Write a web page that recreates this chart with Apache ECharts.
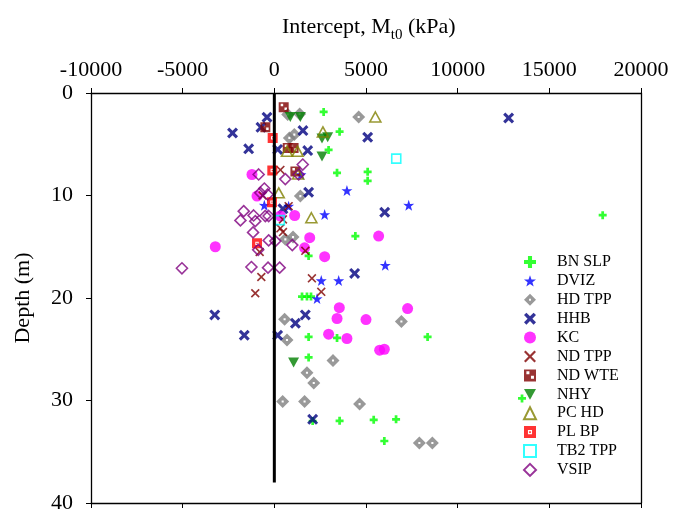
<!DOCTYPE html>
<html>
<head>
<meta charset="utf-8">
<script src="https://cdn.jsdelivr.net/npm/echarts@6/dist/echarts.min.js"></script>
<style>
html,body{margin:0;padding:0;background:#fff;}
#chart{width:687px;height:514px;}
</style>
</head>
<body>
<div id="chart"></div>
<script>
// ---- Data: [intercept Mt0 (kPa), depth (m)] ----
const bnSlp = [[2690,1.85],[3560,3.77],[2960,5.55],[3420,7.79],[5090,7.69],[5090,8.57],[17910,11.92],[4420,13.96],[1870,15.9],[1510,19.86],[1780,19.86],[2000,19.86],[1870,23.8],[3420,23.9],[8360,23.8],[1870,25.8],[13510,29.8],[2090,32.0],[3560,31.98],[5420,31.88],[6640,31.84],[6000,33.95]];
const dviz = [[3960,9.51],[7330,10.94],[2745,11.85],[-545,10.94],[780,11.04],[1450,7.95],[6050,16.8],[2560,18.3],[3510,18.3],[2330,20.06]];
const hdTpp = [[4600,2.34],[730,2.1],[1380,2.04],[820,4.38],[1090,4.06],[1420,10.06],[600,14.28],[1020,14.06],[560,22.07],[690,24.1],[6930,22.3],[3200,26.1],[1780,27.3],[2150,28.3],[455,30.1],[1650,30.1],[4650,30.35],[7910,34.15],[8620,34.15]];
const hhb = [[12780,2.44],[-400,2.37],[-730,3.35],[1560,3.67],[5090,4.32],[-2280,3.9],[-1400,5.45],[1820,5.62],[180,5.5],[1870,9.68],[6020,11.63],[470,11.3],[-3250,21.65],[-1640,23.63],[180,23.63],[1150,22.46],[1690,21.65],[4380,17.6],[2090,31.84]];
const kc = [[-1220,7.95],[-945,10.06],[1110,11.95],[330,12.0],[1930,14.12],[1650,15.1],[2745,15.97],[-3220,15.0],[5690,13.96],[3545,20.94],[7270,21.03],[3420,22.0],[5000,22.1],[2960,23.53],[3960,23.95],[5745,25.09],[6000,25.0]];
const ndTpp = [[330,7.5],[780,11.04],[470,12.33],[330,13.2],[470,13.57],[-640,10.0],[-800,15.5],[1690,15.4],[-710,17.95],[-1040,19.54],[2050,18.08],[2560,19.4]];
const ndWte = [[510,1.4],[-490,3.35],[730,5.36],[1050,5.36],[1150,7.65]];
const nhy = [[870,2.34],[1420,2.34],[2600,4.45],[2910,4.32],[2600,6.2],[1050,26.3]];
const pcHd = [[5510,2.34],[2650,3.8],[690,5.69],[1270,5.69],[1300,7.9],[240,9.74],[2020,12.17]];
const plBp = [[-90,4.38],[-110,7.56],[-130,10.65],[-945,14.67]];
const tb2Tpp = [[6650,6.4],[300,12.4]];
const vsip = [[-855,7.95],[600,8.4],[1550,6.98],[1330,7.95],[-545,9.32],[-764,9.74],[-364,9.9],[-1670,11.53],[-1850,12.43],[-1130,11.95],[-1040,12.5],[-490,12.0],[-310,12.0],[-1160,13.6],[-310,14.38],[55,14.45],[980,14.84],[-5040,17.1],[-1250,16.98],[-345,17.04],[290,17.04],[-880,15.3]];
const refLine = [[0,0],[0,38]];

const xTicks = {min:-10000, max:20000, interval:5000};
const yTicks = {min:0, max:40, interval:10};

// ---- Symbols ----
const SYM = {
  plus: 'path://M3.3,0 H6.7 V3.3 H10 V6.7 H6.7 V10 H3.3 V6.7 H0 V3.3 H3.3 Z',
  star: 'path://M50,0 L61.8,35.1 L97.6,34.5 L69,56.7 L79.4,90.5 L50,70 L20.6,90.5 L31,56.7 L2.4,34.5 L38.2,35.1 Z',
  hd: 'path://M5,0 L10,5 L5,10 L0,5 Z M4.2,4.2 L4.2,5.8 L5.8,5.8 L5.8,4.2 Z',
  xBold: 'path://M0,2 L2,0 L5,3 L8,0 L10,2 L7,5 L10,8 L8,10 L5,7 L2,10 L0,8 L3,5 Z',
  xThin: 'path://M0,1.3 L1.3,0 L5,3.7 L8.7,0 L10,1.3 L6.3,5 L10,8.7 L8.7,10 L5,6.3 L1.3,10 L0,8.7 L3.7,5 Z',
  wte: 'path://M0,0 H10 V10 H0 Z M2,1.5 V4 H4.5 V1.5 Z M5.8,5.2 V7.7 H8.3 V5.2 Z',
  down: 'path://M0,0 L10,0 L5,9 Z',
  pl: 'path://M0,0 H10 V10 H0 Z M3.3,3.3 V6.7 H6.7 V3.3 Z M4.3,4.3 H5.7 V5.7 H4.3 Z'
};

const FONT = '"Liberation Serif","Times New Roman",serif';

function sc(name, data, symbol, size, color, extra) {
  return Object.assign({
    name, type:'scatter', data, symbol, symbolSize:size,
    itemStyle:{color:color},
    silent:true, animation:false
  }, extra || {});
}
function open(color){
  return {itemStyle:{color:'rgba(255,255,255,0)', borderColor:color, borderWidth:1.6}};
}

const series = [
  sc('BN SLP', bnSlp, SYM.plus, 8, '#00ff00'),
  sc('DVIZ', dviz, SYM.star, 11, '#0000ff'),
  sc('HD TPP', hdTpp, SYM.hd, 13, '#808080'),
  sc('HHB', hhb, SYM.xBold, 11, '#000080'),
  sc('KC', kc, 'circle', 11, '#ff00ff'),
  sc('ND TPP', ndTpp, SYM.xThin, 9, '#800000'),
  sc('ND WTE', ndWte, SYM.wte, 10, '#800000'),
  sc('NHY', nhy, SYM.down, [11,10], '#008000'),
  Object.assign(sc('PC HD', pcHd, 'triangle', [11,10], '#808000'), open('#808000')),
  sc('PL BP', plBp, SYM.pl, 10, '#ff0000'),
  Object.assign(sc('TB2 TPP', tb2Tpp, 'rect', 9, '#00ffff'), open('#00ffff')),
  Object.assign(sc('VSIP', vsip, 'diamond', 11, '#800080'), open('#800080')),
  {
    name:'line', type:'line', data:refLine, symbol:'none', z:10,
    lineStyle:{color:'#000', width:3}, silent:true, animation:false
  }
];

const legendNames = ['BN SLP','DVIZ','HD TPP','HHB','KC','ND TPP','ND WTE','NHY','PC HD','PL BP','TB2 TPP','VSIP'];

const axLine = {show:true, onZero:false, lineStyle:{color:'#000', width:1.3}};
const plain = v => String(v);
const chart = echarts.init(document.getElementById('chart'), null, {renderer:'canvas'});
chart.setOption({
  backgroundColor:'#fff',
  animation:false,
  title:{
    text:'{a|Intercept, M}{b|t0}{a| (kPa)}',
    left:277, top:5,
    textStyle:{
      fontWeight:'normal',
      rich:{
        a:{fontFamily:FONT, fontSize:22, fontWeight:'normal', color:'#000', lineHeight:28, verticalAlign:'bottom'},
        b:{fontFamily:FONT, fontSize:15, fontWeight:'normal', color:'#000', lineHeight:28, verticalAlign:'bottom', padding:[0,0,-5,0]}
      }
    }
  },
  grid:{left:91, right:46, top:93, bottom:10, containLabel:false},
  legend:{
    data:legendNames, orient:'vertical', left:518, top:249,
    itemWidth:12, itemHeight:12, itemGap:2.9,
    textStyle:{fontFamily:FONT, fontSize:16, color:'#000', lineHeight:14, padding:[0,0,0,16]},
    selectedMode:false
  },
  xAxis:[
    {type:'value', position:'top', min:xTicks.min, max:xTicks.max, interval:xTicks.interval,
     axisLine:axLine, axisTick:{show:true, inside:false, length:5, lineStyle:{color:'#000'}},
     axisLabel:{fontFamily:FONT, fontSize:22, color:'#000', margin:12, formatter:plain},
     splitLine:{show:false}},
    {type:'value', position:'bottom', min:xTicks.min, max:xTicks.max, interval:xTicks.interval,
     axisLine:axLine, axisTick:{show:true, inside:false, length:5, lineStyle:{color:'#000'}},
     axisLabel:{show:false}, splitLine:{show:false}}
  ],
  yAxis:[
    {type:'value', inverse:true, position:'left', min:yTicks.min, max:yTicks.max, interval:yTicks.interval,
     name:'Depth (m)', nameLocation:'middle', nameGap:57,
     nameTextStyle:{fontFamily:FONT, fontSize:22, color:'#000'},
     axisLine:axLine, axisTick:{show:true, inside:false, length:5, lineStyle:{color:'#000'}},
     axisLabel:{fontFamily:FONT, fontSize:22, color:'#000', margin:18, formatter:plain},
     splitLine:{show:false}},
    {type:'value', inverse:true, position:'right', min:yTicks.min, max:yTicks.max, interval:yTicks.interval,
     axisLine:axLine, axisTick:{show:false}, axisLabel:{show:false}, splitLine:{show:false}}
  ],
  series:series
});
</script>
</body>
</html>
